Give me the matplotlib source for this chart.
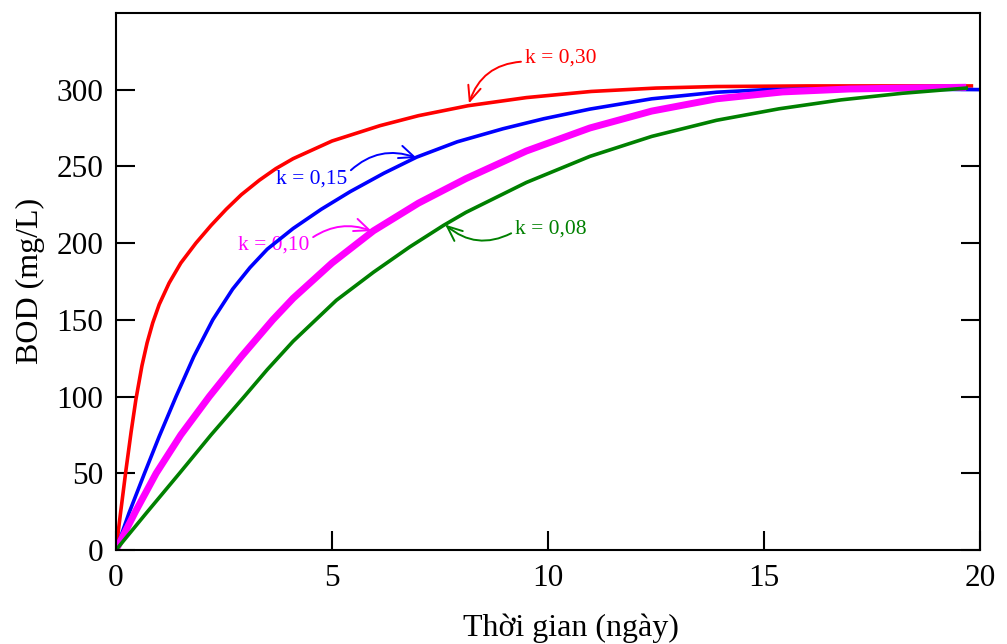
import matplotlib
matplotlib.use("Agg")
import matplotlib.pyplot as plt

# so lieu doc tu hinh: BOD (mg/L) theo thoi gian (ngay)
t_k030 = [0, 0.1, 0.23, 0.35, 0.46, 0.6, 0.72, 0.85, 1.0, 1.23, 1.5, 1.85, 2.2, 2.55, 2.9,
          3.32, 3.7, 4.1, 5.0, 6.11, 7.0, 8.15, 9.5, 11.0, 12.5, 13.9, 16.0, 19.8]
bod_k030 = [0, 23, 52, 77, 98, 120, 135, 148, 160, 174, 187, 200, 211.5, 222, 231.5,
            241, 248.5, 255, 266.5, 276.5, 283, 289.5, 294.8, 298.8, 301, 302, 302.4, 302.4]

t_k015 = [0, 0.3, 0.66, 1.0, 1.39, 1.8, 2.24, 2.7, 3.1, 3.5, 4.1, 4.75, 5.42, 6.2, 6.96,
          7.9, 8.96, 9.9, 10.97, 12.4, 13.9, 15.0, 16.2, 18.0, 20.0]
bod_k015 = [0, 24, 50, 74, 100, 126, 150, 170, 184, 196, 209.5, 222, 233.5, 245.5, 256,
            266, 274.5, 281, 287.3, 294, 298.3, 299.9, 300.4, 300.4, 300]

t_k010 = [0, 0.45, 0.93, 1.5, 2.16, 2.9, 3.63, 4.1, 5.0, 5.96, 7.0, 8.1, 9.5, 10.97,
          12.4, 13.9, 15.43, 16.97, 18.3, 19.6]
bod_k010 = [0, 25, 50, 75, 100, 126, 150, 164, 187, 208, 226, 242, 260, 275,
            286, 294, 298.5, 300.4, 301, 301.5]

t_k008 = [0, 0.7, 1.47, 2.2, 2.97, 3.5, 4.1, 5.1, 5.96, 6.8, 7.58, 8.1, 9.5, 10.97,
          12.4, 13.9, 15.35, 16.78, 18.2, 19.68]
bod_k008 = [0, 24, 50, 75, 100, 117.5, 136, 162.7, 181, 197.5, 211.5, 220, 239.5, 256.5,
            269.5, 280, 287.5, 293.3, 297.6, 301]

x_ticks = [0, 5, 10, 15, 20]
y_ticks = [0, 50, 100, 150, 200, 250, 300]

plt.rcParams['font.family'] = ['Liberation Serif', 'DejaVu Serif']

fig = plt.figure(figsize=(10.07, 6.44), dpi=100)
ax = fig.add_axes([0.1152, 0.146, 0.858, 0.834])

ax.plot(t_k030, bod_k030, color='#ff0000', lw=2.6, solid_joinstyle='round')
ax.plot(t_k015, bod_k015, color='#0000ff', lw=2.6, solid_joinstyle='round')
ax.plot(t_k010, bod_k010, color='#ff00ff', lw=5, solid_joinstyle='round')
ax.plot(t_k008, bod_k008, color='#008000', lw=2.6, solid_joinstyle='round')

ax.set_xlim(0, 20)
ax.set_ylim(0, 350)
ax.set_xticks(x_ticks)
ax.set_yticks(y_ticks)
ax.tick_params(direction='in', length=14, width=1.5, right=True, top=False,
               labelsize=22.5)
ax.tick_params(axis='y', pad=9)
ax.tick_params(axis='x', pad=10)
for s in ax.spines.values():
    s.set_linewidth(1.5)

ax.set_xlabel('Thời gian (ngày)', fontsize=23)
ax.set_ylabel('BOD (mg/L)', fontsize=23)
ax.xaxis.set_label_coords(0.527, -0.118)
ax.yaxis.set_label_coords(-0.082, 0.5)

# chu thich k
def ghi_chu(text, xy, xytext, color, rad, relpos):
    ax.annotate(text, xy=xy, xytext=xytext, color=color, fontsize=15.5,
                ha='left', va='center', zorder=1,
                arrowprops=dict(arrowstyle='->,head_length=0.7,head_width=0.3',
                                color=color, lw=1.4, relpos=relpos,
                                shrinkA=1, shrinkB=0,
                                connectionstyle='arc3,rad=%s' % rad))

ghi_chu('k = 0,30', (8.17, 291), (9.47, 320.8), '#ff0000', 0.35, (0, 0.3))
ghi_chu('k = 0,15', (6.96, 255.5), (3.70, 242), '#0000ff', -0.32, (1, 0.75))
ghi_chu('k = 0,10', (5.92, 207.8), (2.82, 199), '#ff00ff', -0.27, (1, 0.75))
ghi_chu('k = 0,08', (7.62, 212), (9.24, 209), '#008000', -0.35, (0, 0.4))

plt.savefig('out.png', dpi=100)
